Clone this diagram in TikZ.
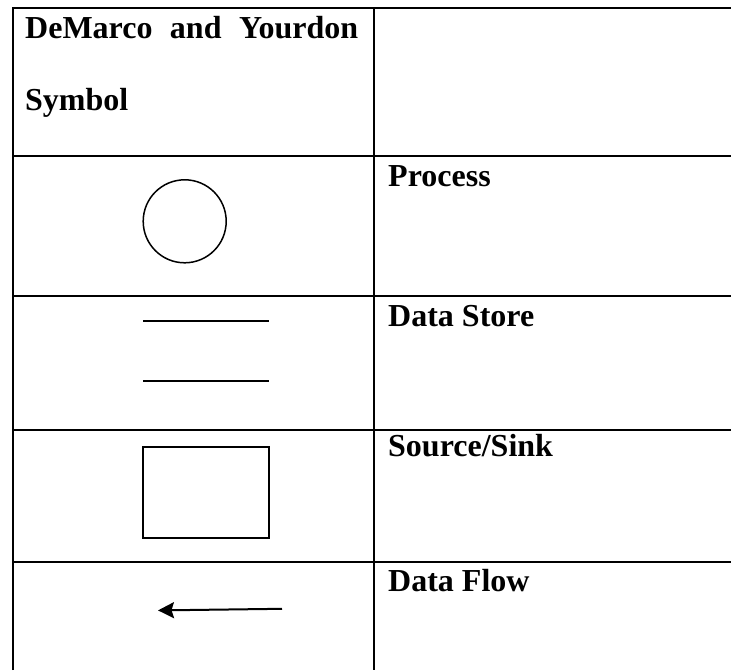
\documentclass[tikz,border=0pt]{standalone}
\usepackage{fontspec}
\setmainfont{Liberation Serif}
\usetikzlibrary{arrows.meta}
\begin{document}
\begin{tikzpicture}[x=1pt,y=-1pt,
  grid/.style={line width=2.3pt},
  sym/.style={line width=1.5pt},
  lbl/.style={anchor=base west,inner sep=0pt,font=\fontsize{32}{36}\selectfont\bfseries}]
\useasboundingbox (0,0) rectangle (731,670);
% table lines
\draw[grid] (13,670) -- (13,8) -- (731,8);
\draw[grid] (374,8) -- (374,670);
\foreach \yy in {156,296,430,562}{\draw[grid] (13,\yy) -- (731,\yy);}
% header
\node[lbl,text width=333pt,align=justify] (hd) at (25,38.3) {DeMarco\hfill and\hfill Yourdon};
\node[lbl] (hs) at (25,110) {Symbol};
% labels
\node[lbl] (lp) at (388,186.7) {Process};
\node[lbl] (ld) at (388,326.7) {Data Store};
\node[lbl] (ls) at (388,456.7) {Source/Sink};
\node[lbl] (lf) at (388,591.7) {Data Flow};
% symbols
\node[sym,draw,circle,minimum size=83pt,inner sep=0pt] (proc) at (184.7,221.3) {};
\coordinate (d1a) at (143,321); \coordinate (d1b) at (269,321);
\coordinate (d2a) at (143,381); \coordinate (d2b) at (269,381);
\draw[sym] (d1a) -- (d1b);
\draw[sym] (d2a) -- (d2b);
\node[draw,line width=1.3pt,minimum width=126pt,minimum height=91pt,inner sep=0pt] (src) at (206,492.5) {};
\coordinate (fa) at (282,608.8);
\coordinate (fb) at (158,610.4);
\draw[line width=2pt,-{Stealth[length=16pt,width=16pt,inset=2.5pt]}] (fa) -- (fb);
\end{tikzpicture}
\end{document}
